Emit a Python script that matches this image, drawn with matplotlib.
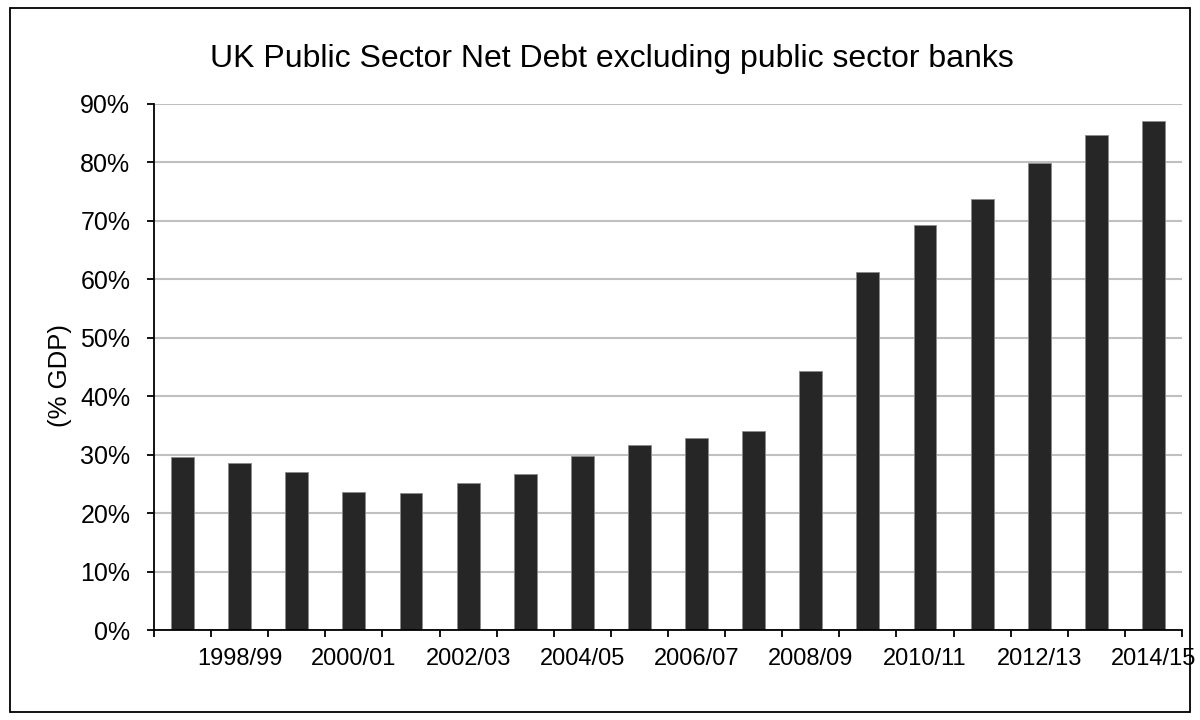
import matplotlib
matplotlib.use("Agg")
import matplotlib.pyplot as plt
from matplotlib.patches import Rectangle
from matplotlib.ticker import FixedLocator, NullFormatter, PercentFormatter

plt.rcParams['font.family'] = ['Liberation Sans', 'DejaVu Sans']

years = ["1997/98", "1998/99", "1999/00", "2000/01", "2001/02", "2002/03",
         "2003/04", "2004/05", "2005/06", "2006/07", "2007/08", "2008/09",
         "2009/10", "2010/11", "2011/12", "2012/13", "2013/14", "2014/15"]
debt_pct = [29.6, 28.5, 27.0, 23.6, 23.4, 25.1, 26.7, 29.7, 31.6, 32.9,
            34.1, 44.3, 61.2, 69.2, 73.7, 79.8, 84.7, 87.1]
y_ticks = [0, 10, 20, 30, 40, 50, 60, 70, 80, 90]
title = "UK Public Sector Net Debt excluding public sector banks"
y_label = "(% GDP)"

fig = plt.figure(figsize=(12, 7.2), dpi=100)
ax = fig.add_axes([0.1283, 0.125, 0.985 - 0.1283, 0.856 - 0.125])

# outer chart border
fig.patches.append(Rectangle((10 / 1200, 8 / 720), 1180 / 1200, 704 / 720,
                             transform=fig.transFigure, fill=False,
                             edgecolor='black', linewidth=1.3))

x = list(range(len(years)))
ax.bar(x, debt_pct, width=0.4, color='#262626', edgecolor='#8a8a8a',
       linewidth=0.6, zorder=3)

ax.set_xlim(-0.5, len(years) - 0.5)
ax.set_ylim(0, 90)
ax.set_yticks(y_ticks)
ax.yaxis.set_major_formatter(PercentFormatter(decimals=0))
ax.grid(axis='y', color='#c0c0c0', linewidth=1.5, zorder=0)
ax.set_axisbelow(True)

# x ticks at category boundaries, labels at every other category
ax.xaxis.set_major_locator(FixedLocator([i - 0.5 for i in range(len(years) + 1)]))
ax.xaxis.set_major_formatter(NullFormatter())
label_pos = [i for i in x if i % 2 == 1]
ax.xaxis.set_minor_locator(FixedLocator(label_pos))
ax.set_xticklabels([years[i] for i in label_pos], minor=True)
ax.tick_params(axis='x', which='major', direction='out', length=5, width=1.3)
ax.tick_params(axis='x', which='minor', length=0, pad=13, labelsize=17)
ax.tick_params(axis='y', direction='out', length=5, width=1.3, pad=12,
               labelsize=18)

for s in ['top', 'right']:
    ax.spines[s].set_visible(False)
for s in ['left', 'bottom']:
    ax.spines[s].set_linewidth(1.3)
    ax.spines[s].set_zorder(4)

ax.set_ylabel(y_label, fontsize=18.5)
ax.yaxis.set_label_coords(-0.0798, 0.484)

fig.text(0.51, 1 - 67 / 720, title, ha='center', va='baseline', fontsize=23)

fig.savefig("out.png", dpi=100)
